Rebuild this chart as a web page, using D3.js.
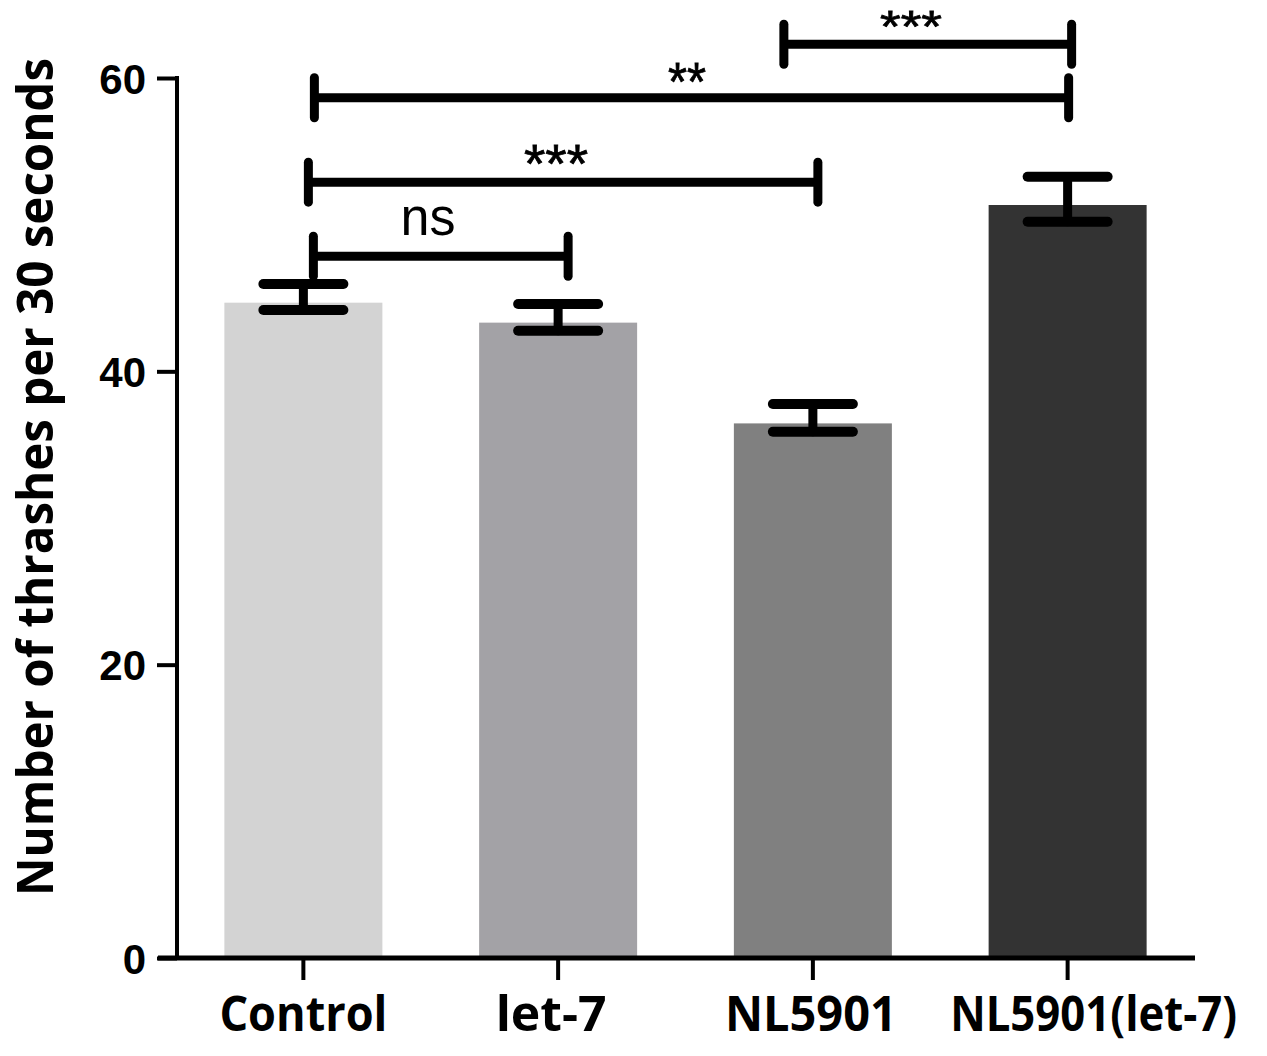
<!DOCTYPE html>
<html><head><meta charset="utf-8">
<script src="https://cdn.jsdelivr.net/npm/d3@7"></script>
<style>body{margin:0;background:#fff}</style>
</head><body>
<svg id="c" width="1267" height="1056"></svg>
<script>
const categories = ["Control", "let-7", "NL5901", "NL5901(let-7)"];
const means = [44.68, 43.32, 36.45, 51.34];
const errHigh = [45.95, 44.59, 37.77, 53.27];
const errLow = [44.18, 42.77, 35.88, 50.2];
const barColors = ["#d3d3d3", "#a3a2a6", "#808080", "#333333"];
const yTicks = [0, 20, 40, 60];
const brackets = [
  {from: 0, to: 1, y: 47.85, label: "ns"},
  {from: 0, to: 2, y: 52.9, label: "***"},
  {from: 0, to: 3, y: 58.65, label: "**"},
  {from: 2, to: 3, y: 62.3, label: "***"}
];

// layout (not data)
const bracketOffsets = [[10, 10], [5, 5], [11, 1], [-29, 4]];
const labelWidths = [168, 111, 172, 287];
const labelDx = [0, -7, -2, 26];
const starX = [428, 556, 687, 911];
const starW = [55, 64, 38, 62];
const starDy = [-21, 0, 2, -2];
const starSize = [54, 54, 54, 45];

const svg = d3.select("#c");
const x = d3.scaleBand().domain(categories).range([176, 1195]).paddingInner(0.38).paddingOuter(0.19);
const y = d3.scaleLinear().domain([0, 60]).range([958, 78]);

// bars
svg.selectAll("rect.bar").data(categories).enter().append("rect")
  .attr("x", d => x(d) + x.bandwidth()/2 - 79)
  .attr("width", 158)
  .attr("y", (d, i) => y(means[i]))
  .attr("height", (d, i) => y(0) - y(means[i]))
  .attr("fill", (d, i) => barColors[i]);

// error bars
const cx = d => x(d) + x.bandwidth()/2;
const eb = svg.append("g").attr("stroke", "#000").attr("stroke-linecap", "round");
categories.forEach((c, i) => {
  eb.append("line").attr("x1", cx(c)).attr("x2", cx(c)).attr("y1", y(errHigh[i])).attr("y2", y(errLow[i])).attr("stroke-width", 9);
  eb.append("line").attr("x1", cx(c) - 40).attr("x2", cx(c) + 40).attr("y1", y(errHigh[i])).attr("y2", y(errHigh[i])).attr("stroke-width", 10);
  eb.append("line").attr("x1", cx(c) - 40).attr("x2", cx(c) + 40).attr("y1", y(errLow[i])).attr("y2", y(errLow[i])).attr("stroke-width", 10);
});

// y axis
const yAxis = svg.append("g").attr("transform", "translate(177,0)")
  .call(d3.axisLeft(y).tickValues(yTicks).tickSize(20).tickPadding(10).tickSizeOuter(0));
yAxis.select(".domain").attr("stroke-width", 4).attr("d", `M0,${y(60)-2}V${y(0)}`);
yAxis.selectAll(".tick line").attr("stroke-width", 4);
yAxis.selectAll(".tick text").attr("font-family", "Liberation Sans, Arial, sans-serif")
  .attr("font-weight", "bold").attr("font-size", 42).attr("fill", "#000").attr("dy", "0.36em").attr("x", -31);

// x axis
const xAxis = svg.append("g").attr("transform", `translate(0,${y(0)})`)
  .call(d3.axisBottom(x).tickSize(22).tickSizeOuter(0).tickFormat(""));
xAxis.select(".domain").attr("stroke-width", 5).attr("d", "M158,0H1195");
xAxis.selectAll(".tick line").attr("stroke-width", 4);
xAxis.selectAll(".tick").append("text")
  .text(d => d)
  .attr("x", (d, i) => labelDx[i])
  .attr("y", 73)
  .attr("text-anchor", "middle")
  .attr("font-family", "Open Sans, sans-serif").attr("font-weight", "bold").attr("font-size", 48)
  .attr("fill", "#000")
  .attr("textLength", (d, i) => labelWidths[i]).attr("lengthAdjust", "spacingAndGlyphs");

// y title
svg.append("text")
  .attr("transform", "translate(53,477) rotate(-90)")
  .attr("text-anchor", "middle")
  .attr("font-family", "Open Sans, sans-serif").attr("font-weight", "bold").attr("font-size", 50)
  .attr("textLength", 838).attr("lengthAdjust", "spacingAndGlyphs")
  .text("Number of thrashes per 30 seconds");

// significance brackets
const bg = svg.append("g");
brackets.forEach((b, i) => {
  const x1 = cx(categories[b.from]) + bracketOffsets[i][0];
  const x2 = cx(categories[b.to]) + bracketOffsets[i][1];
  const yy = y(b.y);
  const g = bg.append("g").attr("stroke", "#000").attr("stroke-linecap", "round");
  g.append("line").attr("x1", x1).attr("x2", x2).attr("y1", yy).attr("y2", yy).attr("stroke-width", 9).attr("stroke-linecap", "butt");
  g.append("line").attr("x1", x1).attr("x2", x1).attr("y1", yy - 20).attr("y2", yy + 20).attr("stroke-width", 9);
  g.append("line").attr("x1", x2).attr("x2", x2).attr("y1", yy - 20).attr("y2", yy + 20).attr("stroke-width", 9);
  const isNs = b.label === "ns";
  bg.append("text").text(b.label)
    .attr("x", starX[i])
    .attr("y", yy + starDy[i])
    .attr("text-anchor", "middle")
    .attr("font-family", "Liberation Sans, Arial, sans-serif")
    .attr("font-size", starSize[i])
    .attr("stroke", isNs ? "none" : "#000").attr("stroke-width", 0.8)
    .attr("textLength", starW[i]).attr("lengthAdjust", "spacingAndGlyphs")
    .attr("fill", "#000");
});
</script>
</body></html>
